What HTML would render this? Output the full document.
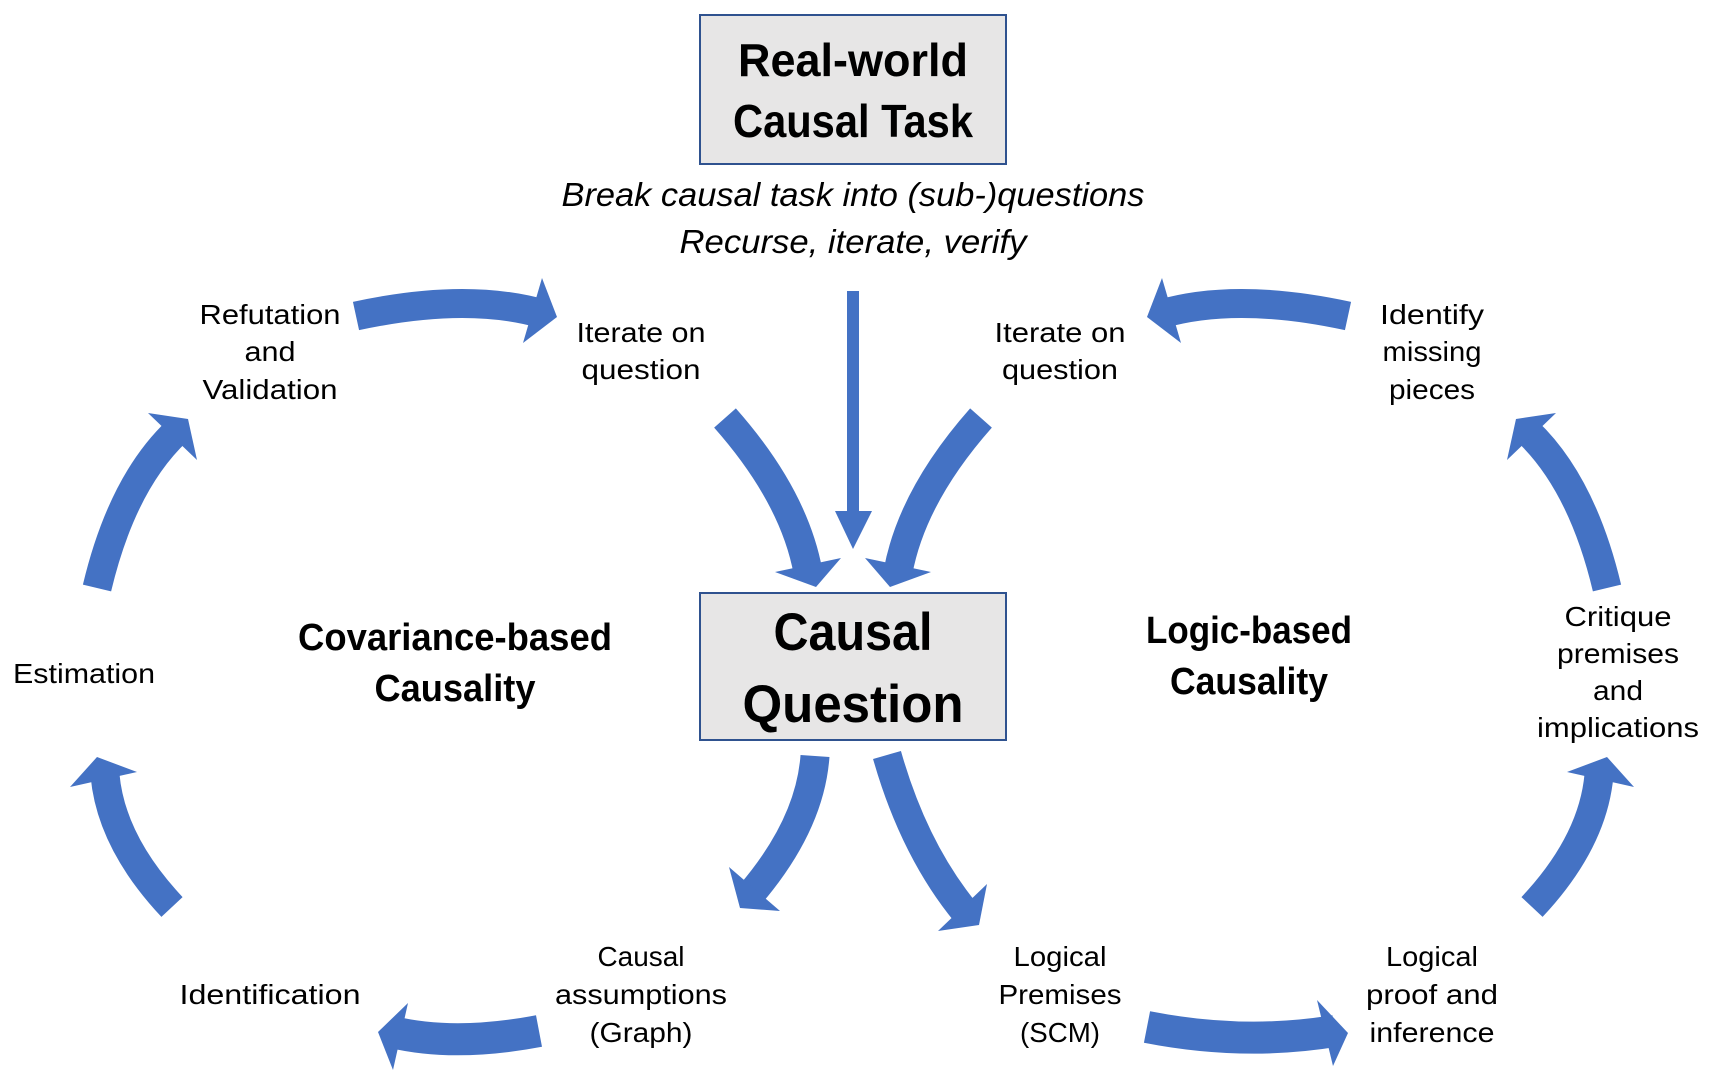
<!DOCTYPE html>
<html><head><meta charset="utf-8"><style>
html,body{margin:0;padding:0;background:#fff;}
svg{display:block;}
text{font-family:"Liberation Sans",sans-serif;fill:#000;}
.s{font-size:28px;text-anchor:middle;}
.b{font-weight:bold;text-anchor:middle;}
.i{font-style:italic;font-size:33px;text-anchor:middle;}
.a{fill:none;stroke:#4472C4;stroke-width:29;}
.h{fill:#4472C4;}
</style></head><body>
<svg width="1714" height="1078" viewBox="0 0 1714 1078" xmlns="http://www.w3.org/2000/svg">
<rect x="700" y="15" width="306" height="149" fill="#e7e6e6" stroke="#2f528f" stroke-width="2"/>
<rect x="700" y="593" width="306" height="147" fill="#e7e6e6" stroke="#2f528f" stroke-width="2"/>

<text class="b" x="853" y="76" font-size="46" textLength="230" lengthAdjust="spacingAndGlyphs">Real-world</text>
<text class="b" x="853" y="137" font-size="46" textLength="240" lengthAdjust="spacingAndGlyphs">Causal Task</text>
<text class="i" x="853" y="206" textLength="583" lengthAdjust="spacingAndGlyphs">Break causal task into (sub-)questions</text>
<text class="i" x="853" y="253" textLength="347" lengthAdjust="spacingAndGlyphs">Recurse, iterate, verify</text>

<text class="b" x="853" y="650" font-size="53" textLength="159" lengthAdjust="spacingAndGlyphs">Causal</text>
<text class="b" x="853" y="722" font-size="53" textLength="221" lengthAdjust="spacingAndGlyphs">Question</text>

<text class="b" x="455" y="650" font-size="38" textLength="314" lengthAdjust="spacingAndGlyphs">Covariance-based</text>
<text class="b" x="455" y="701" font-size="38" textLength="161" lengthAdjust="spacingAndGlyphs">Causality</text>
<text class="b" x="1249" y="643" font-size="38" textLength="206" lengthAdjust="spacingAndGlyphs">Logic-based</text>
<text class="b" x="1249" y="694" font-size="38" textLength="158" lengthAdjust="spacingAndGlyphs">Causality</text>

<text class="s" x="270" y="324" textLength="141" lengthAdjust="spacingAndGlyphs">Refutation</text>
<text class="s" x="270" y="361" textLength="51" lengthAdjust="spacingAndGlyphs">and</text>
<text class="s" x="270" y="399" textLength="135" lengthAdjust="spacingAndGlyphs">Validation</text>

<text class="s" x="641" y="342" textLength="129" lengthAdjust="spacingAndGlyphs">Iterate on</text>
<text class="s" x="641" y="379" textLength="119" lengthAdjust="spacingAndGlyphs">question</text>
<text class="s" x="1060" y="342" textLength="131" lengthAdjust="spacingAndGlyphs">Iterate on</text>
<text class="s" x="1060" y="379" textLength="116" lengthAdjust="spacingAndGlyphs">question</text>

<text class="s" x="1432" y="324" textLength="104" lengthAdjust="spacingAndGlyphs">Identify</text>
<text class="s" x="1432" y="361" textLength="99" lengthAdjust="spacingAndGlyphs">missing</text>
<text class="s" x="1432" y="399" textLength="86" lengthAdjust="spacingAndGlyphs">pieces</text>

<text class="s" x="84" y="683" textLength="142" lengthAdjust="spacingAndGlyphs">Estimation</text>

<text class="s" x="1618" y="626" textLength="107" lengthAdjust="spacingAndGlyphs">Critique</text>
<text class="s" x="1618" y="663" textLength="122" lengthAdjust="spacingAndGlyphs">premises</text>
<text class="s" x="1618" y="700" textLength="50" lengthAdjust="spacingAndGlyphs">and</text>
<text class="s" x="1618" y="737" textLength="162" lengthAdjust="spacingAndGlyphs">implications</text>

<text class="s" x="270" y="1004" textLength="181" lengthAdjust="spacingAndGlyphs">Identification</text>

<text class="s" x="641" y="966" textLength="87" lengthAdjust="spacingAndGlyphs">Causal</text>
<text class="s" x="641" y="1004" textLength="172" lengthAdjust="spacingAndGlyphs">assumptions</text>
<text class="s" x="641" y="1042" textLength="103" lengthAdjust="spacingAndGlyphs">(Graph)</text>

<text class="s" x="1060" y="966" textLength="93" lengthAdjust="spacingAndGlyphs">Logical</text>
<text class="s" x="1060" y="1004" textLength="123" lengthAdjust="spacingAndGlyphs">Premises</text>
<text class="s" x="1060" y="1042" textLength="80" lengthAdjust="spacingAndGlyphs">(SCM)</text>

<text class="s" x="1432" y="966" textLength="92" lengthAdjust="spacingAndGlyphs">Logical</text>
<text class="s" x="1432" y="1004" textLength="132" lengthAdjust="spacingAndGlyphs">proof and</text>
<text class="s" x="1432" y="1042" textLength="125" lengthAdjust="spacingAndGlyphs">inference</text>

<!-- thin vertical arrow -->
<rect x="847" y="291" width="12" height="225" fill="#4472C4"/>
<polygon class="h" points="835,511 872,511 853,549"/>

<!-- top arcs -->
<path class="a" d="M356,316 Q467,292 543,314"/>
<polygon class="h" points="542,278 557,317 523,343"/>
<path class="a" d="M1348,316 Q1237,292 1161,314"/>
<polygon class="h" points="1162,278 1147,317 1181,343"/>

<!-- into box -->
<path class="a" d="M725,418 Q794,496 808,572"/>
<polygon class="h" points="775,572 816,587 841,558"/>
<path class="a" d="M981,418 Q912,496 898,572"/>
<polygon class="h" points="931,572 890,587 865,558"/>

<!-- out of box -->
<path class="a" d="M815,756 Q810,825 750,895"/>
<polygon class="h" points="729,867 740,908 780,911"/>
<path class="a" d="M887,755 Q914,850 966,913"/>
<polygon class="h" points="987,884 979,925 938,931"/>

<!-- left side -->
<path class="a" d="M97,588 Q122,483 177,431"/>
<polygon class="h" points="148,413 188,419 197,460"/>
<path class="a" d="M172,907 Q111,842 105,775"/>
<polygon class="h" points="70,787 97,757 137,772"/>

<!-- right side -->
<path class="a" d="M1607,588 Q1582,483 1527,431"/>
<polygon class="h" points="1556,413 1516,419 1507,460"/>
<path class="a" d="M1532,907 Q1593,842 1599,775"/>
<polygon class="h" points="1634,787 1607,757 1567,772"/>

<!-- bottom -->
<path class="a" style="stroke-width:32" d="M539,1031 Q455,1047 392,1032"/>
<polygon class="h" points="408,1003 378,1032 393,1070"/>
<path class="a" style="stroke-width:32" d="M1147,1027 Q1244,1046 1335,1031"/>
<polygon class="h" points="1317,1000 1348,1033 1333,1066"/>
</svg>
</body></html>
